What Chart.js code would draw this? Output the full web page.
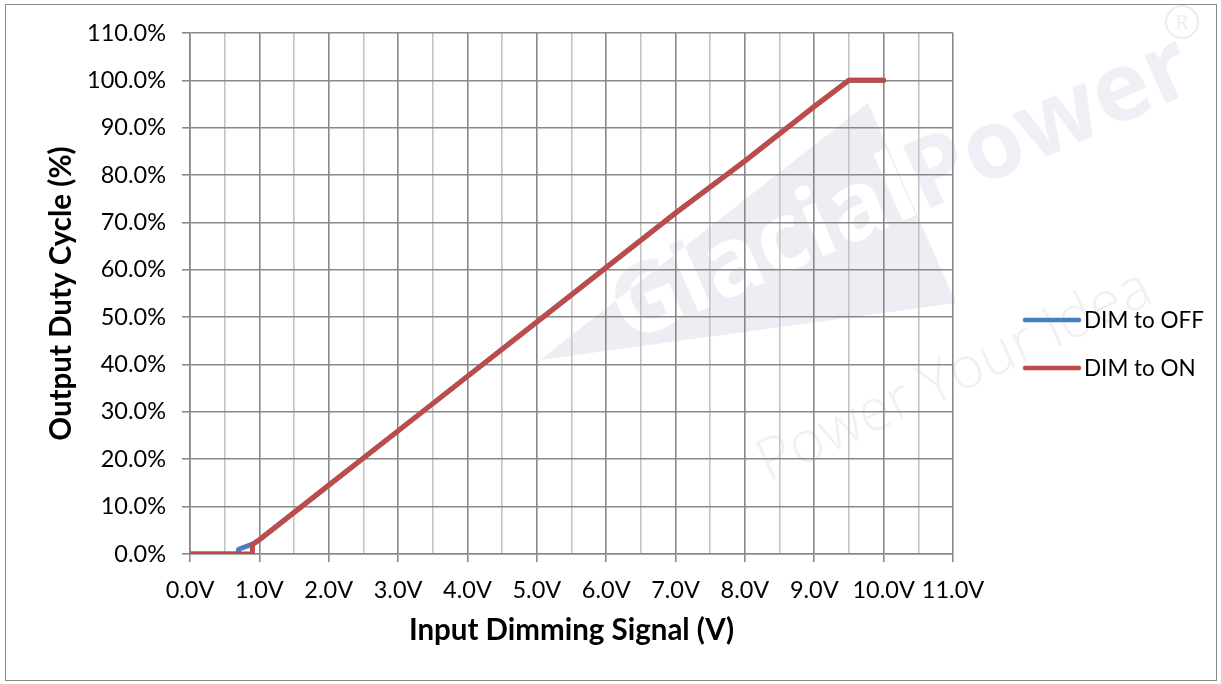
<!DOCTYPE html>
<html>
<head>
<meta charset="utf-8">
<script src="https://cdn.jsdelivr.net/npm/chart.js@4"></script>
<style>
  html, body { margin: 0; padding: 0; background: #fff; }
  #wrap { width: 1221px; height: 684px; }
</style>
</head>
<body>
<div id="wrap"><canvas id="chart" width="1221" height="684"></canvas></div>
<script>
//////////////// DATA
const seriesNames = ['DIM to OFF', 'DIM to ON'];

// input voltage (V) / output duty cycle (%)
const offVolts = [0, 0.7, 0.7, 0.92, 1.0, 2.0, 3.0, 4.0, 5.0, 6.0, 7.0, 8.0, 9.0, 9.5, 10.0];
const offDuty  = [0, 0,   1.0, 2.2,  3.0, 14.5, 26.0, 37.5, 49.0, 60.5, 72.0, 83.0, 94.5, 100, 100];

const onVolts = [0, 0.9, 0.9, 1.0, 2.0, 3.0, 4.0, 5.0, 6.0, 7.0, 8.0, 9.0, 9.5, 10.0];
const onDuty  = [0, 0,   2.0, 3.0, 14.5, 26.0, 37.5, 49.0, 60.5, 72.0, 83.0, 94.5, 100, 100];

const xMin = 0, xMax = 11, xStep = 0.5;
const yMin = 0, yMax = 110, yStep = 10;

const colors = ['#4a7ebb', '#be4b48'];
const majorGrid = '#898989';
const minorGrid = '#c4c4c4';

function toPoints(xs, ys) {
  return xs.map((x, i) => ({ x: x, y: ys[i] }));
}

//////////////// PLUGINS
// faint company watermark behind the plot
const watermark = {
  id: 'watermark',
  beforeDraw(chart) {
    const ctx = chart.ctx;
    ctx.save();
    ctx.fillStyle = '#fff';
    ctx.fillRect(0, 0, chart.width, chart.height);

    // triangle
    ctx.beginPath();
    ctx.moveTo(540, 360);
    ctx.lineTo(868, 103);
    ctx.lineTo(956, 303);
    ctx.closePath();
    ctx.fillStyle = '#eceef4';
    ctx.fill();

    // logo text, knocked out inside triangle
    ctx.save();
    ctx.translate(628, 343);
    ctx.rotate(-24 * Math.PI / 180);
    ctx.font = 'bold 96px "Open Sans"';
    ctx.textBaseline = 'alphabetic';
    ctx.fillStyle = '#eff0f5';
    ctx.fillText('GlacialPower', 0, 0);
    ctx.restore();

    ctx.save();
    ctx.beginPath();
    ctx.moveTo(540, 360);
    ctx.lineTo(868, 103);
    ctx.lineTo(956, 303);
    ctx.closePath();
    ctx.clip();
    ctx.translate(628, 343);
    ctx.rotate(-24 * Math.PI / 180);
    ctx.font = 'bold 96px "Open Sans"';
    ctx.fillStyle = '#ffffff';
    ctx.fillText('GlacialPower', 0, 0);
    ctx.restore();

    // slogan
    ctx.save();
    ctx.translate(768, 482);
    ctx.rotate(-25 * Math.PI / 180);
    ctx.font = '300 58px "Open Sans"';
    ctx.fillStyle = '#f1f1f3';
    ctx.fillText('Power Your Idea', 0, 0);
    ctx.restore();

    // registered mark
    ctx.beginPath();
    ctx.arc(1182, 22, 16, 0, Math.PI * 2);
    ctx.strokeStyle = '#ededf0';
    ctx.lineWidth = 2;
    ctx.stroke();
    ctx.font = '20px "Open Sans"';
    ctx.fillStyle = '#ededf0';
    ctx.textAlign = 'center';
    ctx.textBaseline = 'middle';
    ctx.fillText('R', 1182, 23);
    ctx.restore();
  }
};

// legend on the right + outer frame
const sideLegend = {
  id: 'sideLegend',
  afterDraw(chart) {
    const ctx = chart.ctx;
    const area = chart.chartArea;
    ctx.save();
    chart.data.datasets.forEach((ds, i) => {
      const y = 320 + i * 48;
      const x = area.right + 72;
      ctx.beginPath();
      ctx.moveTo(x, y);
      ctx.lineTo(x + 54, y);
      ctx.strokeStyle = ds.borderColor;
      ctx.lineWidth = 4.5;
      ctx.lineCap = 'round';
      ctx.stroke();
      ctx.font = '22.5px Lato';
      ctx.fillStyle = '#000';
      ctx.textBaseline = 'middle';
      ctx.fillText(ds.label, x + 59, y + 1);
    });
    ctx.strokeStyle = '#8a8a8a';
    ctx.lineWidth = 1;
    ctx.strokeRect(5.5, 4.5, 1211, 676);
    ctx.restore();
  }
};

//////////////// CHART
const chartContext = document.getElementById('chart').getContext('2d');

const dataSets = [
  {
    label: seriesNames[0],
    data: toPoints(offVolts, offDuty),
    borderColor: colors[0],
    order: 1
  },
  {
    label: seriesNames[1],
    data: toPoints(onVolts, onDuty),
    borderColor: colors[1],
    order: 0
  }
].map(ds => Object.assign(ds, {
  backgroundColor: ds.borderColor,
  borderWidth: 5,
  borderCapStyle: 'round',
  borderJoinStyle: 'round',
  pointRadius: 0,
  tension: 0,
  fill: false
}));

const myChart = new Chart(chartContext, {
  type: 'line',
  data: { datasets: dataSets },
  options: {
    responsive: false,
    animation: false,
    devicePixelRatio: 1,
    layout: { padding: { left: 0, top: 33, right: 268, bottom: 0 } },
    plugins: {
      legend: { display: false },
      tooltip: { enabled: false }
    },
    scales: {
      x: {
        type: 'linear',
        min: xMin,
        max: xMax,
        afterFit(scale) { scale.height = 130; },
        ticks: {
          stepSize: xStep,
          autoSkip: false,
          maxRotation: 0,
          padding: 14,
          color: '#000',
          font: { family: 'Lato', size: 23.5 },
          callback: v => (v % 1 === 0 ? v.toFixed(1) + 'V' : '')
        },
        grid: {
          color: c => (c.tick && c.tick.value % 1 !== 0 ? minorGrid : majorGrid),
          tickColor: c => (c.tick && c.tick.value % 1 !== 0 ? 'rgba(0,0,0,0)' : majorGrid),
          lineWidth: 1.6,
          tickLength: 8
        },
        border: { color: majorGrid, width: 1.6 },
        title: {
          display: true,
          text: 'Input Dimming Signal (V)',
          color: '#000',
          font: { family: 'Lato', size: 29.5, weight: 'bold' },
          padding: { top: 0, bottom: 36 }
        }
      },
      y: {
        min: yMin,
        max: yMax,
        afterFit(scale) { scale.width = 190; },
        ticks: {
          stepSize: yStep,
          padding: 16,
          color: '#000',
          font: { family: 'Lato', size: 23.5 },
          callback: v => v.toFixed(1) + '%'
        },
        grid: {
          color: majorGrid,
          tickColor: majorGrid,
          lineWidth: 1.6,
          tickLength: 8
        },
        border: { color: majorGrid, width: 1.6 },
        title: {
          display: true,
          text: 'Output Duty Cycle (%)',
          color: '#000',
          font: { family: 'Lato', size: 29.5, weight: 'bold' },
          padding: { top: 44, bottom: 0 }
        }
      }
    }
  },
  plugins: [watermark, sideLegend]
});
</script>
</body>
</html>
